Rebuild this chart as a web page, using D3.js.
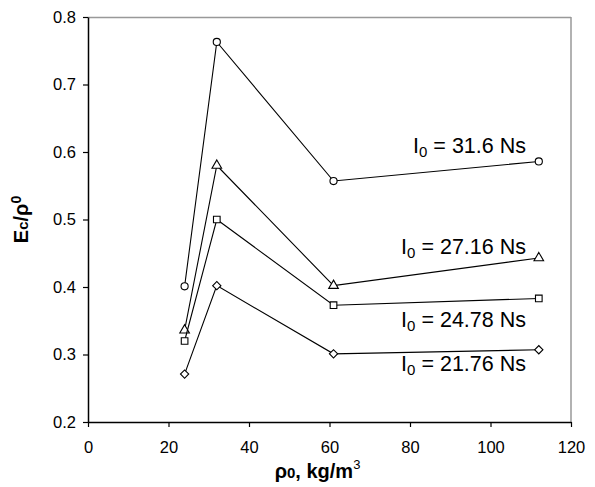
<!DOCTYPE html>
<meta charset="utf-8">
<head>
<script src="https://d3js.org/d3.v7.min.js"></script>
<style>
  body { margin: 0; background: #fff; }
  text { font-family: "Liberation Sans", Arial, sans-serif; }
</style>
</head>
<body>
<div id="my_dataviz"></div>
<script>

// data
var densities = [24, 32, 61, 112];
var circleVals = [0.401, 0.763, 0.557, 0.586];
var triangleVals = [0.336, 0.580, 0.402, 0.443];
var squareVals = [0.320, 0.500, 0.373, 0.383];
var diamondVals = [0.271, 0.402, 0.301, 0.307];
var seriesLabels = ["31.6", "27.16", "24.78", "21.76"];
var xTicks = [0, 20, 40, 60, 80, 100, 120];
var yTicks = [0.2, 0.3, 0.4, 0.5, 0.6, 0.7, 0.8];

// diamond = square turned 45 degrees
var series = [
    {sym: d3.symbolCircle, size: 40, rot: 0, vals: circleVals, label: seriesLabels[0]},
    {sym: d3.symbolTriangle, size: 40, rot: 0, vals: triangleVals, label: seriesLabels[1]},
    {sym: d3.symbolSquare, size: 44, rot: 0, vals: squareVals, label: seriesLabels[2]},
    {sym: d3.symbolSquare, size: 34, rot: 45, vals: diamondVals, label: seriesLabels[3]}
];
// label baselines (in data units) next to each series
var labelY = [0.5985, 0.449, 0.3407, 0.2756];

var margin = {top: 17, right: 24, bottom: 65, left: 88},
    width = 595 - margin.left - margin.right,
    height = 487 - margin.top - margin.bottom;

var svg = d3.select("#my_dataviz")
    .append("svg")
    .attr("width", 595)
    .attr("height", 487)
    .append("g")
    .attr("transform", "translate(" + margin.left + "," + margin.top + ")");

var x = d3.scaleLinear().domain([0, 120]).range([0, width]);
var y = d3.scaleLinear().domain([0.2, 0.8]).range([height, 0]);

// grey frame on top and right
svg.append("line").attr("x1", 0).attr("x2", width).attr("y1", 0.5).attr("y2", 0.5)
    .attr("stroke", "#999").attr("stroke-width", 1.5);
svg.append("line").attr("x1", width).attr("x2", width).attr("y1", 0).attr("y2", height)
    .attr("stroke", "#999").attr("stroke-width", 1.5);

// axes
var xAxis = svg.append("g")
    .attr("transform", "translate(0," + height + ")")
    .call(d3.axisBottom(x).tickValues(xTicks).tickSize(5).tickSizeOuter(0).tickPadding(14));
var yAxis = svg.append("g")
    .call(d3.axisLeft(y).tickValues(yTicks).tickFormat(d3.format(".1f")).tickSize(5).tickSizeOuter(0).tickPadding(7));

[xAxis, yAxis].forEach(function(a) {
    a.selectAll("text").style("font-size", "16.5px").attr("fill", "#000")
        .style("font-family", "Liberation Sans, Arial, sans-serif");
    a.selectAll("line").attr("stroke", "#000").attr("stroke-width", 1.2);
    a.select(".domain").attr("stroke", "#000").attr("stroke-width", 1.5);
});

// lines and markers
var line = d3.line()
    .x(function(d, i) { return x(densities[i]); })
    .y(function(d) { return y(d); });

series.forEach(function(s) {
    svg.append("path")
        .datum(s.vals)
        .attr("fill", "none")
        .attr("stroke", "#000")
        .attr("stroke-width", 1.1)
        .attr("d", line);

    svg.append("g")
        .selectAll("path")
        .data(s.vals)
        .enter().append("path")
        .attr("transform", function(d, i) {
            return "translate(" + x(densities[i]) + "," + y(d) + ") rotate(" + s.rot + ")";
        })
        .attr("d", d3.symbol().type(s.sym).size(s.size))
        .attr("fill", "#fff")
        .attr("stroke", "#000")
        .attr("stroke-width", 1.1);
});

// series labels
series.forEach(function(s, i) {
    var t = svg.append("text")
        .attr("x", 438)
        .attr("y", y(labelY[i]))
        .attr("text-anchor", "end")
        .style("font-size", "21.5px");
    t.append("tspan").text("I");
    t.append("tspan").attr("dy", 4).style("font-size", "15px").text("0");
    t.append("tspan").attr("dy", -4).text(" = " + s.label + " Ns");
});

// x axis title
var xt = svg.append("text")
    .attr("x", width / 2 - 12)
    .attr("y", height + 56)
    .attr("text-anchor", "middle")
    .style("font-size", "20px")
    .style("font-weight", "bold");
xt.append("tspan").text("\u03c1");
xt.append("tspan").style("font-size", "15px").text("0");
xt.append("tspan").text(", kg/m");
xt.append("tspan").attr("dy", -9).style("font-size", "13px").style("font-weight", "normal").text("3");

// y axis title
var yt = svg.append("text")
    .attr("transform", "translate(" + (-60) + "," + y(0.5) + ") rotate(-90)")
    .attr("text-anchor", "middle")
    .style("font-size", "20px")
    .style("font-weight", "bold");
yt.append("tspan").text("E");
yt.append("tspan").style("font-size", "15px").text("c");
yt.append("tspan").text("/\u03c1");
yt.append("tspan").attr("dy", -7).style("font-size", "14px").text("0");

</script>
</body>
